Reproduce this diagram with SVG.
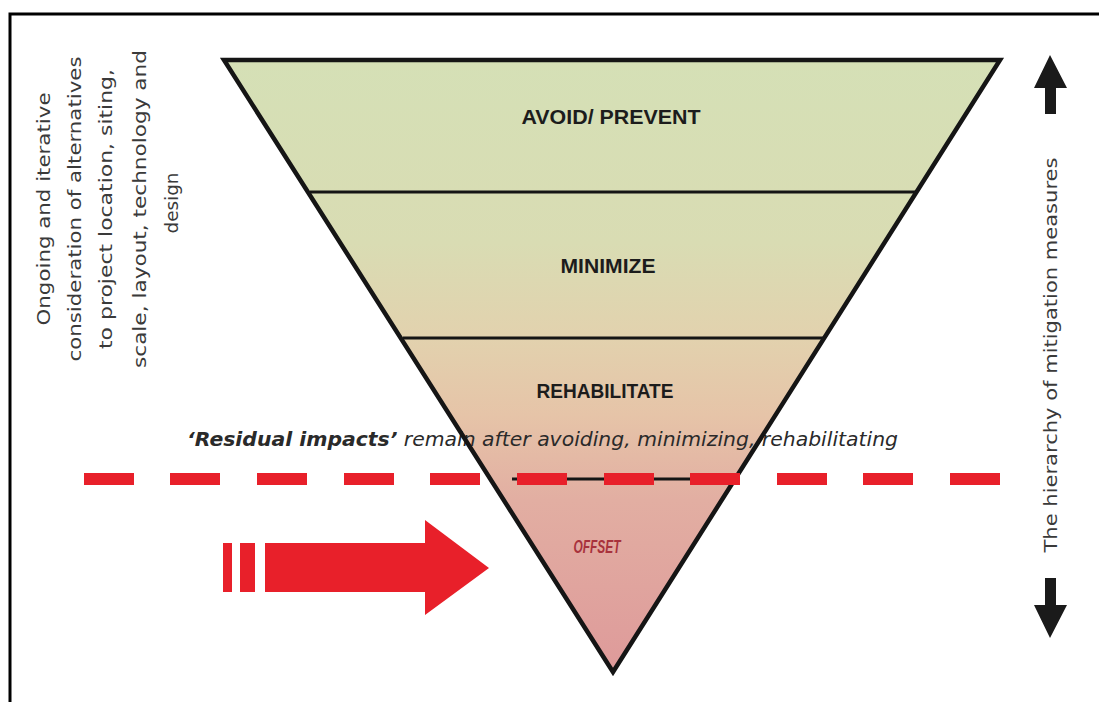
<svg xmlns="http://www.w3.org/2000/svg" width="1099" height="702" viewBox="0 0 1099 702">
  <defs>
    <linearGradient id="pyr" x1="0" y1="60" x2="0" y2="672" gradientUnits="userSpaceOnUse">
      <stop offset="0" stop-color="#d5e0b6"/>
      <stop offset="0.3" stop-color="#d9dcb3"/>
      <stop offset="0.45" stop-color="#e2d2ae"/>
      <stop offset="0.58" stop-color="#e6c4a8"/>
      <stop offset="0.72" stop-color="#e2aea2"/>
      <stop offset="1" stop-color="#de9a9a"/>
    </linearGradient>
  </defs>
  <style>
    .band { font-family: "Liberation Sans", Arial, sans-serif; font-weight: bold; font-size: 21px; fill: #1c1c1c; text-anchor: middle; }
    .side { font-family: "DejaVu Sans", "Liberation Sans", sans-serif; font-size: 18px; fill: #3a3a3a; text-anchor: middle; }
    .divider { stroke: #151515; stroke-width: 3; }
    .dash { fill: #e8202a; }
    .red { fill: #e8202a; }
  </style>

  <rect x="0" y="0" width="1099" height="702" fill="#ffffff"/>
  <g id="frame">
    <path d="M10,702 L10,14 L1099,14" fill="none" stroke="#000" stroke-width="3"/>
  </g>

  <g id="pyramid">
    <polygon points="224,60 1000,60 613,672" fill="url(#pyr)"/>
  </g>

  <g id="residual-text">
    <text x="187" y="446" font-family="DejaVu Sans, Liberation Sans, sans-serif" font-size="20" font-style="italic" fill="#2a2a2a" textLength="711" lengthAdjust="spacingAndGlyphs"><tspan font-weight="bold">‘Residual impacts’</tspan> remain after avoiding, minimizing, rehabilitating</text>
  </g>

  <g id="dividers">
    <line class="divider" x1="310" y1="192" x2="916" y2="192"/>
    <line class="divider" x1="403" y1="338" x2="823" y2="338"/>
    <line class="divider" x1="512" y1="479" x2="730" y2="479"/>
  </g>

  <g id="pyramid-outline">
    <polygon points="224,60 1000,60 613,672" fill="none" stroke="#151515" stroke-width="4.5" stroke-linejoin="miter"/>
  </g>

  <g id="band-avoid"><text class="band" x="611" y="124" textLength="179" lengthAdjust="spacingAndGlyphs">AVOID/ PREVENT</text></g>
  <g id="band-minimize"><text class="band" x="608" y="273" textLength="95" lengthAdjust="spacingAndGlyphs">MINIMIZE</text></g>
  <g id="band-rehabilitate"><text class="band" x="605" y="398" textLength="137" lengthAdjust="spacingAndGlyphs">REHABILITATE</text></g>
  <g id="band-offset"><text x="597" y="553" font-family="Liberation Sans, Arial, sans-serif" font-size="19" font-weight="bold" font-style="italic" fill="#a8323c" text-anchor="middle" textLength="47" lengthAdjust="spacingAndGlyphs">OFFSET</text></g>

  <g id="residual-line">
    <rect class="dash" x="84" y="473" width="50" height="12"/>
    <rect class="dash" x="170" y="473" width="50" height="12"/>
    <rect class="dash" x="257" y="473" width="50" height="12"/>
    <rect class="dash" x="344" y="473" width="50" height="12"/>
    <rect class="dash" x="430" y="473" width="50" height="12"/>
    <rect class="dash" x="517" y="473" width="50" height="12"/>
    <rect class="dash" x="604" y="473" width="50" height="12"/>
    <rect class="dash" x="690" y="473" width="50" height="12"/>
    <rect class="dash" x="777" y="473" width="50" height="12"/>
    <rect class="dash" x="863" y="473" width="50" height="12"/>
    <rect class="dash" x="950" y="473" width="50" height="12"/>
  </g>

  <g id="offset-arrow">
    <rect class="red" x="223" y="543" width="9" height="49"/>
    <rect class="red" x="240" y="543" width="15" height="49"/>
    <polygon class="red" points="265,543 425,543 425,520 489,568 425,615 425,592 265,592"/>
  </g>

  <g id="side-left">
    <text class="side" transform="translate(50,209) rotate(-90)" textLength="233" lengthAdjust="spacingAndGlyphs">Ongoing and iterative</text>
    <text class="side" transform="translate(81,209) rotate(-90)" textLength="305" lengthAdjust="spacingAndGlyphs">consideration of alternatives</text>
    <text class="side" transform="translate(112,209) rotate(-90)" textLength="280" lengthAdjust="spacingAndGlyphs">to project location, siting,</text>
    <text class="side" transform="translate(146,209) rotate(-90)" textLength="318" lengthAdjust="spacingAndGlyphs">scale, layout, technology and</text>
    <text class="side" transform="translate(178,203) rotate(-90)" textLength="61" lengthAdjust="spacingAndGlyphs">design</text>
  </g>

  <g id="side-right">
    <text class="side" fill="#2a2a2a" transform="translate(1057,355) rotate(-90)" textLength="395" lengthAdjust="spacingAndGlyphs">The hierarchy of mitigation measures</text>
  </g>

  <g id="connectors">
    <polygon points="1050,55 1067,88 1056,88 1056,114 1045,114 1045,88 1034,88" fill="#1a1a1a"/>
    <polygon points="1045,578 1056,578 1056,605 1067,605 1050,638 1034,605 1045,605" fill="#1a1a1a"/>
  </g>
</svg>
